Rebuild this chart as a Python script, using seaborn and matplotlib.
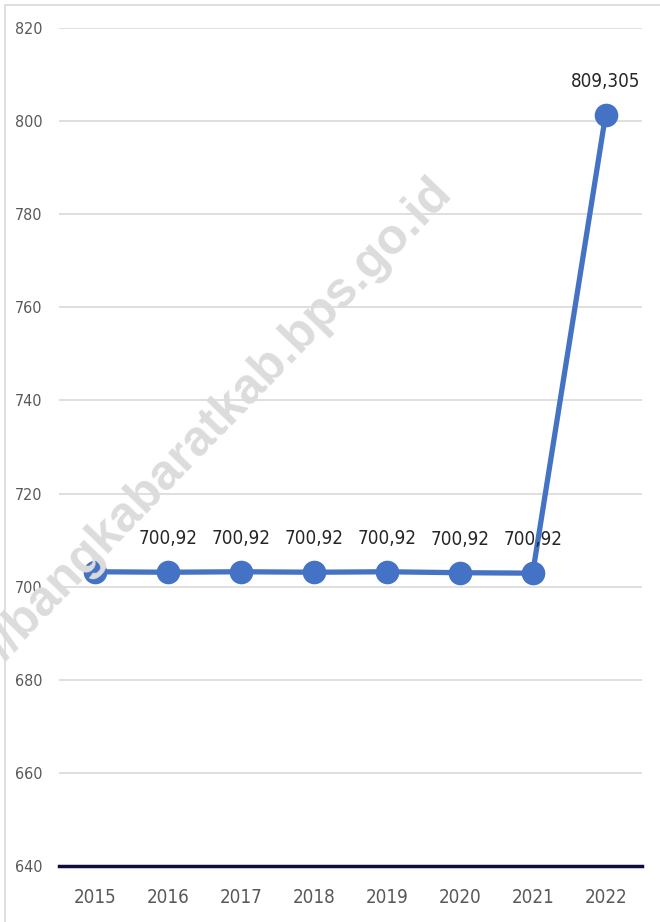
import pandas as pd
import matplotlib.pyplot as plt
import seaborn as sns
from matplotlib.patches import Rectangle

years = ['2015', '2016', '2017', '2018', '2019', '2020', '2021', '2022']
values = [703.2, 703.1, 703.2, 703.1, 703.2, 703.0, 702.9, 801.3]
point_labels = ['', '700,92', '700,92', '700,92', '700,92', '700,92', '700,92', '809,305']
y_ticks = [640, 660, 680, 700, 720, 740, 760, 780, 800, 820]

sns.set_style('white')
plt.rcParams['font.family'] = ['DejaVu Sans']
plt.rcParams['font.stretch'] = 'condensed'

df = pd.DataFrame({'year': years, 'value': values})

fig = plt.figure(figsize=(6.6, 9.22), dpi=100)
ax = fig.add_axes([59 / 660, 1 - 866 / 922, 583 / 660, 838 / 922])

sns.lineplot(data=df, x='year', y='value', ax=ax, color='#4472C4', linewidth=3.8,
             marker='o', markersize=17, markeredgewidth=0, zorder=3)

ax.set_ylim(640, 820)
ax.set_xlim(-0.5, len(years) - 0.5)
ax.set_yticks(y_ticks)
ax.yaxis.grid(True, color='#d9d9d9', linewidth=1.2)
ax.set_axisbelow(True)
for s in ['top', 'right', 'left']:
    ax.spines[s].set_visible(False)
ax.spines['bottom'].set_color('#0d0d3f')
ax.spines['bottom'].set_linewidth(2.5)
ax.tick_params(axis='y', length=0, labelsize=11.5, labelcolor='#595959', pad=12)
ax.tick_params(axis='x', length=0, labelsize=13.5, labelcolor='#595959', pad=16)
ax.set_xlabel('')
ax.set_ylabel('')

for i, lab in enumerate(point_labels):
    if lab:
        ax.annotate(lab, (i, values[i]), xytext=(0, 24), textcoords='offset points',
                    ha='center', va='center', fontsize=13.5, color='#262626')

# watermark
fig.text(445 / 660, 1 - 186 / 922, '//bangkabaratkab.bps.go.id', rotation=46,
         rotation_mode='anchor', fontsize=36, fontweight='bold', color='#dcdcdc',
         ha='right', va='center', family=['Liberation Sans'], stretch='normal', zorder=0)

fig.patches.append(Rectangle((5 / 660, -0.1), 2, 1.1 - 5 / 922, transform=fig.transFigure,
                             fill=False, edgecolor='#d9d9d9', linewidth=1.2))

fig.savefig('out.png', dpi=100)
